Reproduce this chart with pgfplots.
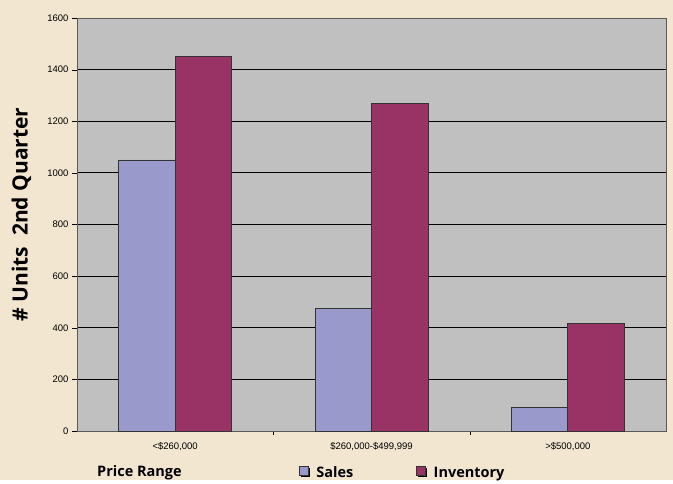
\documentclass[border=0pt]{standalone}
\usepackage{pgfplots}
\pgfplotsset{compat=1.18}
\usepackage{fontspec}
\setmainfont{Liberation Sans}
\newfontfamily\labfont{Open Sans}
\definecolor{bgc}{HTML}{F2E6D0}
\definecolor{plotc}{HTML}{C0C0C0}
\definecolor{salesc}{HTML}{9999CC}
\definecolor{invc}{HTML}{993366}
\definecolor{edgec}{HTML}{333333}
\begin{document}
\begin{tikzpicture}[x=1bp,y=1bp]
\fill[bgc] (0,0) rectangle (673,480);
\begin{axis}[
  at={(77bp,49bp)}, anchor=south west,
  scale only axis, width=589bp, height=413bp,
  ybar=0pt, bar width=56.5bp,
  xmin=-0.5, xmax=2.5, ymin=0, ymax=1600,
  xtick={0,1,2},
  xticklabels={{<\$260,000},{\$260,000-\$499,999},{>\$500,000}},
  minor xtick={0.5,1.5},
  major x tick style={draw=none},
  minor x tick style={black},
  minor tick length=4bp,
  ytick={0,200,...,1600},
  ytick style={black},
  major tick length=5bp,
  tick align=outside,
  xtick pos=bottom, ytick pos=left,
  ymajorgrids, grid style={black, line width=0.8pt},
  axis line style={draw=gray!70!black, line width=0.8pt},
  axis background/.style={fill=plotc},
  tick label style={font=\fontsize{9.5bp}{11bp}\selectfont, black},
  /pgf/number format/assume math mode=true,
  /pgf/number format/1000 sep={},
  xticklabel style={yshift=-3bp},
  ylabel={\labfont\bfseries \# Units\ \ 2nd Quarter},
  ylabel style={font=\fontsize{21bp}{24bp}\selectfont, at={(axis description cs:-0.072,0.524)}},
  legend style={draw=none, fill=none, at={(axis description cs:0.3717,-0.102)}, anchor=west,
     font=\labfont\bfseries\fontsize{14.5bp}{17bp}\selectfont, legend columns=2,
     /tikz/every odd column/.append style={column sep=4.5bp}},
  legend cell align=left,
  legend image code/.code={
     \fill[black] (1.5bp,-3.5bp) rectangle (10bp,5bp);
     \filldraw[#1, draw=edgec] (0bp,-2bp) rectangle (8.5bp,6.5bp);
  },
  clip=false,
]
\addplot[fill=salesc, draw=edgec, line width=0.8pt] coordinates {(0,1050) (1,475) (2,90)};
\addplot[fill=invc, draw=edgec, line width=0.8pt] coordinates {(0,1450) (1,1270) (2,415)};
\legend{\makebox[98bp][l]{Sales},Inventory}
\node[anchor=base west, font=\labfont\bfseries\fontsize{14.5bp}{17bp}\selectfont, inner sep=0pt]
  at (axis description cs:0.0340,-0.1098) {Price Range};
\end{axis}
\end{tikzpicture}
\end{document}
